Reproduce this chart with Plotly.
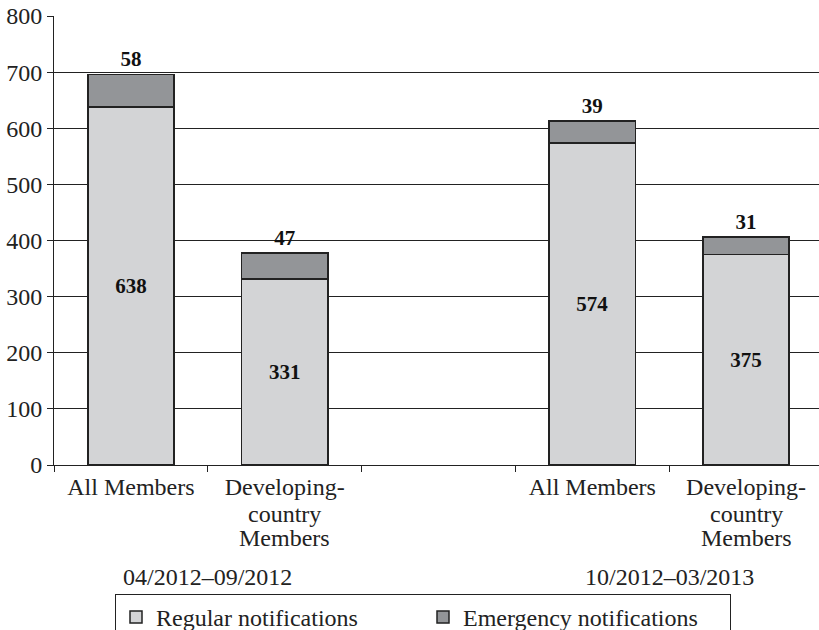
import plotly.graph_objects as go

# slots on the category axis; the middle one is an empty spacer
slots = ["all_1", "dev_1", "gap", "all_2", "dev_2"]
slot_labels = ["All Members", "Developing-", "", "All Members", "Developing-"]
# extra lines under the "Developing-" labels
extra_lines = ["country", "Members"]
dev_slots = ["dev_1", "dev_2"]
periods = ["04/2012–09/2012", "10/2012–03/2013"]

regular = [638, 331, None, 574, 375]
emergency = [58, 47, None, 39, 31]

serif = "Liberation Serif, Times New Roman, serif"
ink = "#222222"

fig = go.Figure()

fig.add_trace(go.Bar(
    x=slots, y=regular, name="Regular notifications",
    marker=dict(color="#d3d4d6", line=dict(color=ink, width=1.5)),
    text=[f"<b>{v}</b>" if v is not None else "" for v in regular],
    textposition="inside", insidetextanchor="middle",
    textfont=dict(family=serif, size=21, color="#111111"),
    width=0.56,
))
fig.add_trace(go.Bar(
    x=slots, y=emergency, name="Emergency notifications",
    marker=dict(color="#939598", line=dict(color=ink, width=1.5)),
    text=[f"<b>{v}</b>" if v is not None else "" for v in emergency],
    textposition="outside",
    textfont=dict(family=serif, size=21, color="#111111"),
    width=0.56, cliponaxis=False,
))

# second and third lines of the Developing-country labels (tight spacing)
plot_h = 630 - 16 - 165
for s in dev_slots:
    for j, line in enumerate(extra_lines):
        fig.add_annotation(
            x=s, xref="x", y=-(514 + 24 * j - 465) / plot_h, yref="paper",
            text=line, showarrow=False, yanchor="middle",
            font=dict(family=serif, size=24, color=ink),
        )

# period captions under each group
for i, p in enumerate(periods):
    fig.add_annotation(
        x=[0.5, 3.5][i], xref="x", y=-(577 - 465) / plot_h, yref="paper",
        text=p, showarrow=False, yanchor="middle",
        font=dict(family=serif, size=24, color=ink),
    )

fig.update_layout(
    width=819, height=630,
    barmode="stack",
    plot_bgcolor="white", paper_bgcolor="white",
    font=dict(family=serif, size=24, color=ink),
    margin=dict(l=54, r=0, t=16, b=165, autoexpand=False),
    showlegend=True,
    legend=dict(
        orientation="h", x=(423 - 54) / 765, xanchor="center",
        y=-(594 - 465) / plot_h, yanchor="top",
        bordercolor=ink, borderwidth=1, entrywidth=262,
        font=dict(family=serif, size=24, color=ink),
        traceorder="normal",
    ),
    uniformtext=dict(minsize=10, mode="show"),
)

fig.update_xaxes(
    type="category", categoryorder="array", categoryarray=slots,
    tickvals=slots, ticktext=slot_labels,
    tickson="boundaries", ticks="outside", ticklen=6, tickcolor=ink,
    range=[-0.5, 4.474], automargin=False,
    showline=True, linecolor=ink, linewidth=1,
    showgrid=False,
    tickfont=dict(family=serif, size=24, color=ink),
)
fig.update_yaxes(
    range=[0, 800], dtick=100, tick0=0, automargin=False,
    ticks="outside", ticklen=6, tickcolor=ink,
    showline=True, linecolor=ink, linewidth=1,
    showgrid=True, gridcolor=ink, gridwidth=1,
    zeroline=False,
    tickfont=dict(family=serif, size=24, color=ink),
)

fig.write_html("out.html", config={"displayModeBar": False},
               post_script="document.body.style.margin='0';")
